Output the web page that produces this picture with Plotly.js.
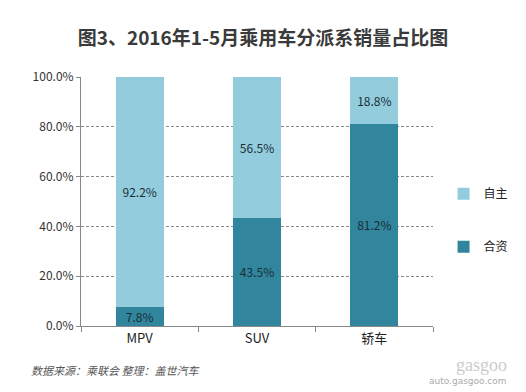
<!DOCTYPE html>
<html><head><meta charset="utf-8">
<script src="https://cdn.plot.ly/plotly-3.0.1.min.js"></script>
<style>html,body{margin:0;padding:0;background:#fff;}#chart{width:526px;height:392px;}</style>
</head><body><div id="chart"></div>
<script>
const categories = ['MPV', 'SUV', '轿车'];
const jointVenture = [7.8, 43.5, 81.2];   // 合资
const domestic = [92.2, 56.5, 18.8];      // 自主
const yTickVals = [0, 20, 40, 60, 80, 100];
const yTickText = ['0.0%', '20.0%', '40.0%', '60.0%', '80.0%', '100.0%'];

const F = '"Noto Sans CJK SC", "Noto Sans", sans-serif';
const fmt = v => v.toFixed(1) + '%';

const traces = [
  {type:'bar', name:'合资', x:categories, y:jointVenture, legendgroup:'b', legendrank:2,
   marker:{color:'#31859C'}, text:jointVenture.map(fmt), textposition:'inside',
   insidetextanchor:'middle', textfont:{family:F, size:12, color:'#1a2e3a'},
   hoverinfo:'skip'},
  {type:'bar', name:'自主', x:categories, y:domestic, legendgroup:'a', legendrank:1,
   marker:{color:'#93CDDD'}, text:domestic.map(fmt), textposition:'inside',
   insidetextanchor:'middle', textfont:{family:F, size:12, color:'#1a2e3a'},
   hoverinfo:'skip'}
];

const layout = {
  width:526, height:392,
  margin:{l:81, r:84, t:77, b:66},
  paper_bgcolor:'#fff', plot_bgcolor:'#fff',
  barmode:'stack', bargap:0.59,
  uniformtext:{mode:'show', minsize:12},
  showlegend:true,
  font:{family:F, size:12, color:'#333'},
  title:{text:'<b>图3、2016年1-5月乘用车分派系销量占比图</b>', x:0.5, xanchor:'center',
         y:0.903, yanchor:'middle', font:{family:F, size:19, color:'#3a3a3a'}},
  xaxis:{showline:true, linecolor:'#888', linewidth:1, ticks:'outside', ticklen:5,
         tickcolor:'#888', tickson:'boundaries', showgrid:false,
         tickfont:{family:F, size:13, color:'#222'}},
  yaxis:{range:[0,100], tickvals:yTickVals, ticktext:yTickText, showline:true,
         linecolor:'#888', linewidth:1, ticks:'outside', ticklen:4, tickcolor:'#888',
         showgrid:true, gridcolor:'#888', griddash:'3px,2px', gridwidth:1, zeroline:false,
         tickfont:{family:F, size:12, color:'#333'}},
  legend:{x:1.03, xanchor:'left', y:0.425, yanchor:'middle', traceorder:'grouped',
          tracegroupgap:34, font:{family:F, size:12, color:'#222'}, itemwidth:30},
  annotations:[
    {text:'<i>数据来源：乘联会 整理：盖世汽车</i>', xref:'paper', yref:'paper',
     x:-0.148, y:-0.178, xanchor:'left', yanchor:'middle', showarrow:false,
     font:{family:F, size:11, color:'#555'}},
    {text:'auto.gasgoo.com', xref:'paper', yref:'paper', x:1.216, y:-0.22,
     xanchor:'right', yanchor:'middle', showarrow:false,
     font:{family:'DejaVu Sans, sans-serif', size:9, color:'#aaa'}},
    {text:'gasgoo', xref:'paper', yref:'paper', x:1.216, y:-0.155,
     xanchor:'right', yanchor:'middle', showarrow:false,
     font:{family:'Liberation Serif, serif', size:18, color:'#ccc'}}
  ]
};
Plotly.newPlot('chart', traces, layout, {displayModeBar:false, staticPlot:true});
</script></body></html>
